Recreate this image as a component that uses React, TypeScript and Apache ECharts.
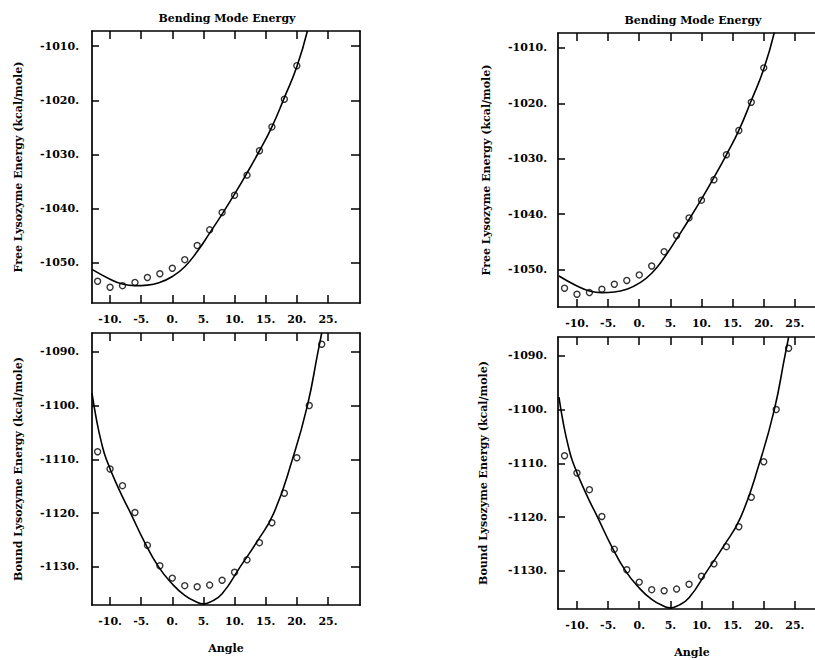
import React, { useEffect, useRef } from "react";
import * as echarts from "echarts";

// ---- data ----
const xTicks = [-10, -5, 0, 5, 10, 15, 20, 25];
const freeTicks = [-1050, -1040, -1030, -1020, -1010];
const boundTicks = [-1130, -1120, -1110, -1100, -1090];

const freeAngle = [-12, -10, -8, -6, -4, -2, 0, 2, 4, 6, 8, 10, 12, 14, 16, 18, 20];
const freeEnergy = [
  -1053.4, -1054.5, -1054.2, -1053.6, -1052.7, -1052.0, -1051.0, -1049.4, -1046.8,
  -1043.9, -1040.7, -1037.5, -1033.8, -1029.3, -1024.9, -1019.8, -1013.6,
];

const boundAngle = [-12, -10, -8, -6, -4, -2, 0, 2, 4, 6, 8, 10, 12, 14, 16, 18, 20, 22, 24];
const boundEnergy = [
  -1108.6, -1111.8, -1114.9, -1119.9, -1126.0, -1129.8, -1132.1, -1133.5, -1133.7,
  -1133.4, -1132.5, -1131.0, -1128.7, -1125.5, -1121.8, -1116.3, -1109.7, -1100.0, -1088.6,
];

const fitFreeAngle = [-12.9, -10, -8, -6, -4, -2, 0, 2, 4, 6, 8, 10, 12, 14, 16, 18, 20, 21.7];
const fitFreeEnergy = [
  -1051.2, -1053.0, -1053.9, -1054.2, -1054.1, -1053.6, -1052.5, -1050.7, -1047.9,
  -1044.5, -1041.0, -1037.3, -1033.4, -1029.3, -1024.9, -1019.5, -1013.8, -1007.2,
];

const fitBoundAngle = [
  -12.9, -12.2, -11.4, -10.6, -8.6, -6.7, -4.5, -2.2, 0, 2, 4, 5, 6, 8, 10.9, 13.5, 16.3, 19.3,
  21.7, 23.4, 24.0,
];
const fitBoundEnergy = [
  -1097.7, -1102.5, -1106.8, -1110.0, -1115.5, -1120.0, -1125.3, -1130.0, -1133.2, -1135.3,
  -1136.6, -1136.9, -1136.6, -1135.0, -1130.0, -1125.5, -1120.0, -1110.0, -1100.0, -1090.0,
  -1086.5,
];

const titleText = "Bending Mode Energy";
const freeName = "Free Lysozyme Energy (kcal/mole)";
const boundName = "Bound Lysozyme Energy (kcal/mole)";
const xName = "Angle";

// ---- layout ----
const FONT = "DejaVu Serif";
const panels = [
  { grid: { left: 92, top: 31, width: 268, height: 272 }, xMin: -12.9, xMax: 30.15, yMin: -1057.4, yMax: -1007.2, kind: "free", nameGap: 68, labelMargin: 13, angle: false, angleGap: 38 },
  { grid: { left: 92, top: 333, width: 268, height: 272 }, xMin: -12.9, xMax: 30.15, yMin: -1137.1, yMax: -1086.5, kind: "bound", nameGap: 68, labelMargin: 13, angle: true, angleGap: 38 },
  { grid: { left: 558, top: 33, width: 268, height: 274 }, xMin: -13.05, xMax: 30.0, yMin: -1056.8, yMax: -1007.3, kind: "free", nameGap: 66, labelMargin: 11, angle: false, angleGap: 38 },
  { grid: { left: 558, top: 337, width: 268, height: 272 }, xMin: -13.05, xMax: 30.0, yMin: -1137.1, yMax: -1086.5, kind: "bound", nameGap: 69, labelMargin: 11, angle: true, angleGap: 38 },
];

const zip = (xs: number[], ys: number[]) => xs.map((x, i) => [x, ys[i]]);

export default function App() {
  const ref = useRef<HTMLDivElement>(null);
  useEffect(() => {
    if (!ref.current) return;
    const chart = echarts.init(ref.current, null, { renderer: "svg" });
    const labelStyle = { fontFamily: FONT, fontWeight: "bold" as const, fontSize: 11, color: "#000" };
    const lineStyle = { color: "#000", width: 1.7 };
    const tickStyle = { color: "#000", width: 1.5 };

    const grids: any[] = [];
    const xAxes: any[] = [];
    const yAxes: any[] = [];
    const series: any[] = [];

    panels.forEach((p, i) => {
      grids.push({ ...p.grid, containLabel: false, outerBoundsMode: "none", show: false });
      const yTicks = p.kind === "free" ? freeTicks : boundTicks;
      xAxes.push({
        type: "value", gridIndex: i, position: "bottom", min: p.xMin, max: p.xMax,
        axisLine: { show: true, onZero: false, lineStyle },
        axisTick: { show: true, inside: true, length: 8, customValues: xTicks, lineStyle: tickStyle },
        axisLabel: { show: true, customValues: xTicks, margin: 11, formatter: (v: number) => `${v}.`, ...labelStyle },
        splitLine: { show: false },
        name: p.angle ? xName : "", nameLocation: "middle", nameGap: p.angleGap,
        nameTextStyle: { ...labelStyle },
      });
      xAxes.push({
        type: "value", gridIndex: i, position: "top", min: p.xMin, max: p.xMax,
        axisLine: { show: true, onZero: false, lineStyle },
        axisTick: { show: true, inside: true, length: 8, customValues: xTicks, lineStyle: tickStyle },
        axisLabel: { show: false },
        splitLine: { show: false },
      });
      yAxes.push({
        type: "value", gridIndex: i, position: "left", min: p.yMin, max: p.yMax,
        axisLine: { show: true, onZero: false, lineStyle },
        axisTick: { show: true, inside: true, length: 7, customValues: yTicks, lineStyle: tickStyle },
        axisLabel: { show: true, customValues: yTicks, margin: p.labelMargin, formatter: (v: number) => `${v}.`, ...labelStyle },
        splitLine: { show: false },
        name: p.kind === "free" ? freeName : boundName,
        nameLocation: "middle", nameGap: p.nameGap, nameRotate: 90,
        nameTextStyle: { ...labelStyle },
      });
      yAxes.push({
        type: "value", gridIndex: i, position: "right", min: p.yMin, max: p.yMax,
        axisLine: { show: true, onZero: false, lineStyle },
        axisTick: { show: true, inside: true, length: 9, customValues: yTicks, lineStyle: tickStyle },
        axisLabel: { show: false },
        splitLine: { show: false },
      });
      const pts = p.kind === "free" ? zip(freeAngle, freeEnergy) : zip(boundAngle, boundEnergy);
      const fit = p.kind === "free" ? zip(fitFreeAngle, fitFreeEnergy) : zip(fitBoundAngle, fitBoundEnergy);
      series.push({
        type: "line", xAxisIndex: 2 * i, yAxisIndex: 2 * i, data: fit,
        smooth: 0.5, showSymbol: false, clip: true,
        lineStyle: { color: "#000", width: 1.6 }, silent: true,
      });
      series.push({
        type: "scatter", xAxisIndex: 2 * i, yAxisIndex: 2 * i, data: pts,
        symbol: "circle", symbolSize: 6,
        itemStyle: { color: "rgba(255,255,255,0)", borderColor: "#000", borderWidth: 1.4 },
        silent: true,
      });
    });

    chart.setOption({
      animation: false,
      backgroundColor: "#fff",
      title: [
        { text: titleText, left: 227, top: 13, textAlign: "center", padding: 0, textStyle: { fontFamily: FONT, fontWeight: "bold", fontSize: 11, color: "#000" } },
        { text: titleText, left: 693, top: 15, textAlign: "center", padding: 0, textStyle: { fontFamily: FONT, fontWeight: "bold", fontSize: 11, color: "#000" } },
      ],
      grid: grids,
      xAxis: xAxes,
      yAxis: yAxes,
      series,
    });
    return () => chart.dispose();
  }, []);
  return (
    <div
      ref={ref}
      style={{ position: "absolute", left: 0, top: 0, width: 815, height: 660, background: "#fff" }}
    />
  );
}
